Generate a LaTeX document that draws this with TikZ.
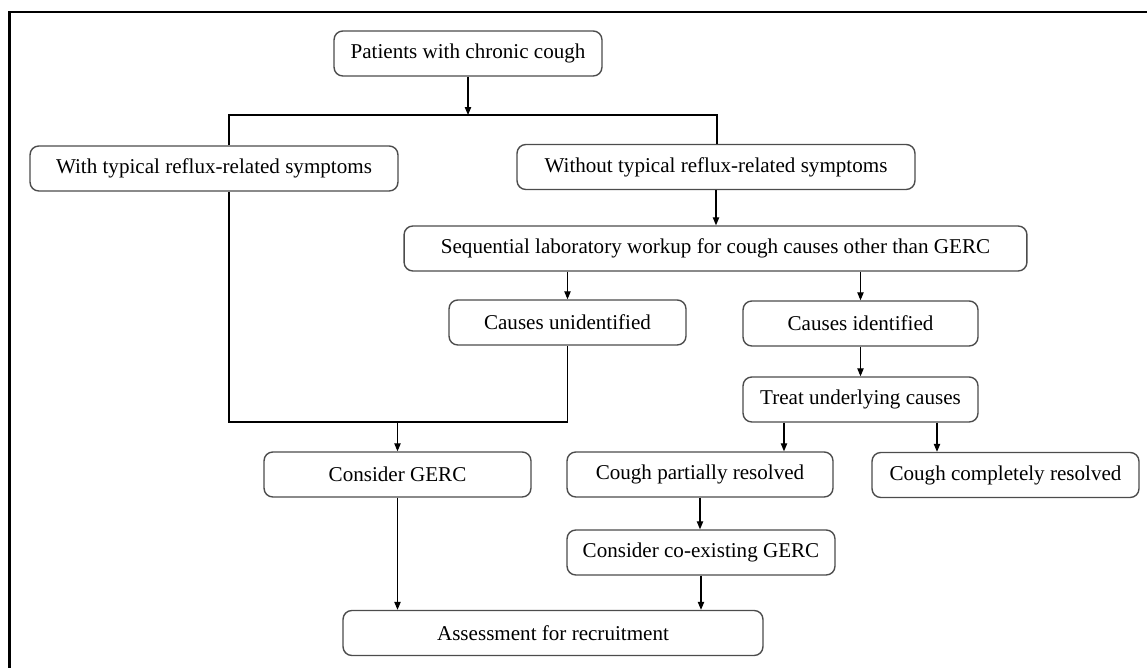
\documentclass[tikz,border=0pt]{standalone}
\usepackage{fontspec}
\setmainfont{Liberation Serif}
\usetikzlibrary{arrows.meta}
\tikzset{
  box/.style={draw=black!70, line width=0.8pt, rounded corners=5pt, minimum height=0.9cm,
    inner sep=0pt, font=\fontsize{12}{14}\selectfont},
  arr/.style={-{Triangle[length=4.5pt,width=3.6pt]}},
  link/.style={line width=0.6pt}
}

\begin{document}
\begin{tikzpicture}[x=0.02cm, y=-0.02cm, link]
    \useasboundingbox (0,0) rectangle (1147,668);
    \draw[line width=1.6pt] (1147,12) -- (9.5,12) -- (9.5,668);

    \node[box, minimum width=5.36cm] (pat) at (468,53.5) {Patients with chronic cough};
    \node[box, minimum width=7.36cm] (with) at (214,168.5) {With typical reflux-related symptoms};
    \node[box, minimum width=7.96cm] (without) at (716,167) {Without typical reflux-related symptoms};
    \node[box, minimum width=12.46cm] (seq) at (715.5,248.5) {Sequential laboratory workup for cough causes other than GERC};
    \node[box, minimum width=4.74cm] (unid) at (567.5,322.5) {Causes unidentified};
    \node[box, minimum width=4.7cm] (ident) at (860.5,323.5) {Causes identified};
    \node[box, minimum width=4.7cm] (treat) at (860.5,399.5) {Treat underlying causes};
    \node[box, minimum width=5.34cm] (gerc) at (397.5,474.5) {Consider GERC};
    \node[box, minimum width=5.32cm] (partial) at (700,474.5) {Cough partially resolved};
    \node[box, minimum width=5.34cm] (complete) at (1005.5,475) {Cough completely resolved};
    \node[box, minimum width=5.36cm] (coex) at (701,552.5) {Consider co-existing GERC};
    \node[box, minimum width=8.4cm] (assess) at (553,633) {Assessment for recruitment};

    \coordinate (brL) at (229,115);
    \coordinate (brR) at (717,115);
    \coordinate (joinL) at (229,422);
    \coordinate (tl) at (784,0);
    \coordinate (tr) at (937,0);

    \draw[arr] (pat.south) -- (pat.south |- brL);
    \draw (brL |- with.north) -- (brL) -- (brR) -- (brR |- without.north);
    \draw[arr] (without.south) -- (without.south |- seq.north);
    \draw[arr] (unid.north |- seq.south) -- (unid.north);
    \draw[arr] (ident.north |- seq.south) -- (ident.north);
    \draw[arr] (ident.south) -- (treat.north);
    \draw (brL |- with.south) -- (joinL) -- (joinL -| unid.south) -- (unid.south);
    \draw[arr] (joinL -| gerc.north) -- (gerc.north);
    \draw[arr] (tl |- treat.south) -- (tl |- partial.north);
    \draw[arr] (tr |- treat.south) -- (tr |- complete.north);
    \draw[arr] (partial.south) -- (partial.south |- coex.north);
    \draw[arr] (gerc.south) -- (gerc.south |- assess.north);
    \draw[arr] (coex.south) -- (coex.south |- assess.north);
\end{tikzpicture}
\end{document}
